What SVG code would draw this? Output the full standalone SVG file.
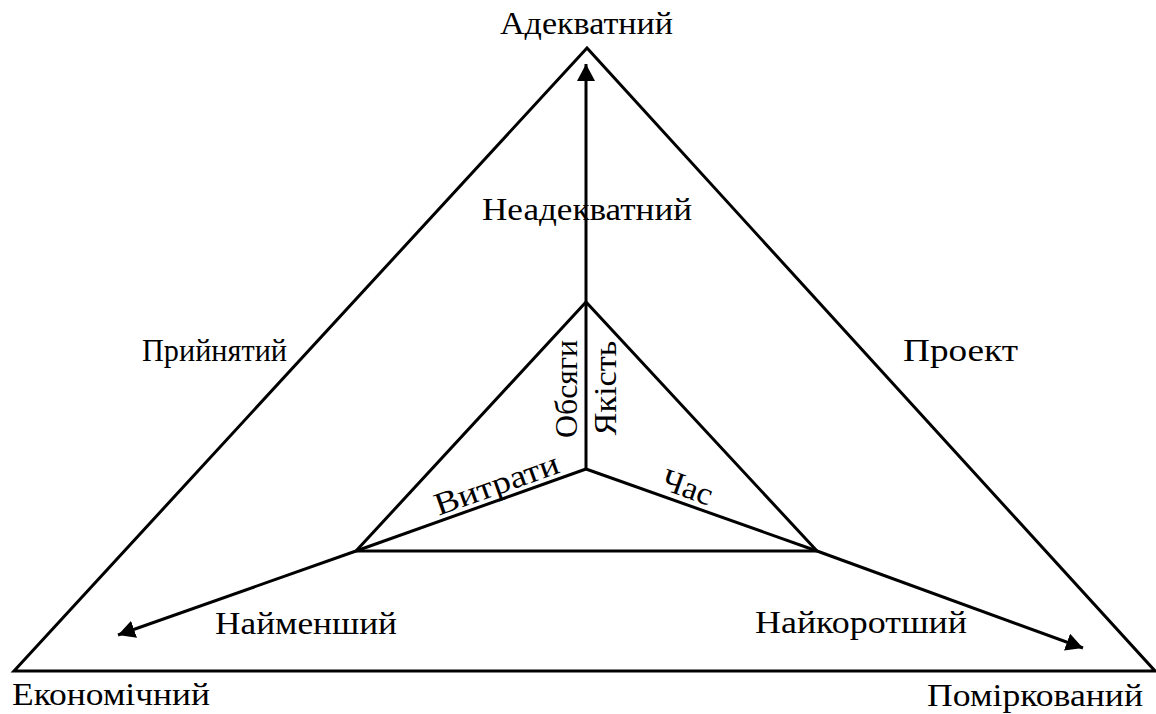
<svg xmlns="http://www.w3.org/2000/svg" width="1156" height="714" viewBox="0 0 1156 714">
<style>
.ln{fill:none;stroke:#000;stroke-width:3;stroke-linejoin:miter}
.t{font-family:"Liberation Serif","DejaVu Serif",serif;font-size:32px;fill:#000}
.m{text-anchor:middle}
</style>
<defs>
<marker id="ah" markerUnits="userSpaceOnUse" markerWidth="18" markerHeight="18" viewBox="0 0 18 18" refX="17" refY="9" orient="auto">
<path d="M0,0 L17,9 L0,18 Z" fill="#000"/>
</marker>
</defs>
<rect width="1156" height="714" fill="#fff"/>
<g id="outer-triangle">
<path class="ln" d="M587,48 L14,671 L1155,671 Z"/>
</g>
<g id="inner-triangle">
<path class="ln" d="M586,302 L356,551 L817,551 Z"/>
</g>
<g id="connectors">
<line class="ln" x1="586" y1="469" x2="586" y2="302"/>
<line class="ln" x1="586" y1="469" x2="356" y2="551"/>
<line class="ln" x1="586" y1="469" x2="817" y2="551"/>
<line class="ln" x1="586" y1="302" x2="586" y2="64" marker-end="url(#ah)"/>
<line class="ln" x1="356" y1="551" x2="118" y2="635" marker-end="url(#ah)"/>
<line class="ln" x1="817" y1="551" x2="1083" y2="648" marker-end="url(#ah)"/>
</g>
<g id="labels">
<text id="t-adekv" class="t" x="500" y="34" textLength="173" lengthAdjust="spacingAndGlyphs">Адекватний</text>
<text id="t-neadekv" class="t" x="482" y="220" textLength="210" lengthAdjust="spacingAndGlyphs">Неадекватний</text>
<text id="t-pryin" class="t" x="142" y="361" textLength="145" lengthAdjust="spacingAndGlyphs">Прийнятий</text>
<text id="t-proekt" class="t" x="903" y="361" textLength="115" lengthAdjust="spacingAndGlyphs">Проект</text>
<text id="t-naimen" class="t" x="215" y="634" textLength="182" lengthAdjust="spacingAndGlyphs">Найменший</text>
<text id="t-naikor" class="t" x="755" y="633" textLength="212" lengthAdjust="spacingAndGlyphs">Найкоротший</text>
<text id="t-ekon" class="t" x="12" y="705" textLength="198" lengthAdjust="spacingAndGlyphs">Економічний</text>
<text id="t-pomir" class="t" x="927" y="706" textLength="216" lengthAdjust="spacingAndGlyphs">Поміркований</text>
<text id="t-obsyagy" class="t m" transform="translate(577,389) rotate(-90)" textLength="98" lengthAdjust="spacingAndGlyphs">Обсяги</text>
<text id="t-yakist" class="t m" transform="translate(616,388) rotate(-90)" textLength="95" lengthAdjust="spacingAndGlyphs">Якість</text>
<text id="t-vytraty" class="t m" transform="translate(500,494) rotate(-19.6)" textLength="130" lengthAdjust="spacingAndGlyphs">Витрати</text>
<text id="t-chas" class="t m" transform="translate(684,497) rotate(19.6)" textLength="52" lengthAdjust="spacingAndGlyphs">Час</text>
</g>
</svg>
